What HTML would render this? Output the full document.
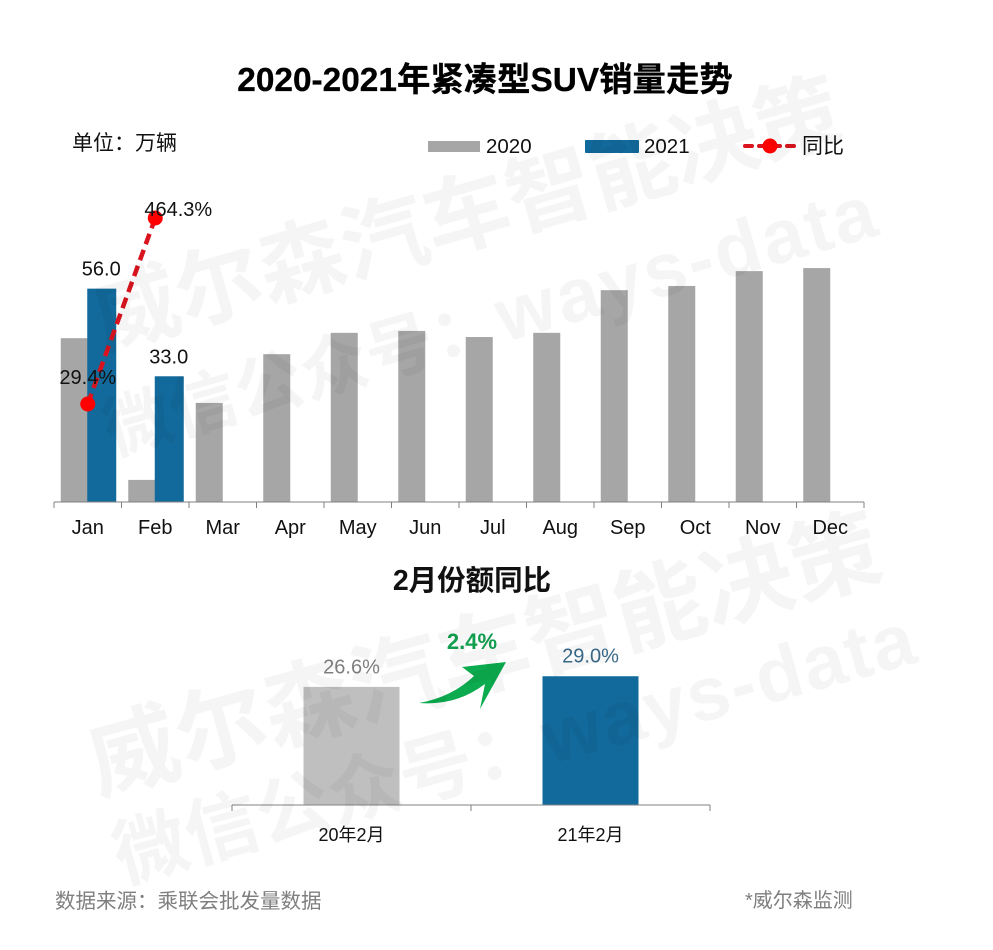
<!DOCTYPE html>
<html lang="zh">
<head>
<meta charset="utf-8">
<title>2020-2021年紧凑型SUV销量走势</title>
<style>
html,body{margin:0;padding:0;background:#fff;}
svg{display:block;font-family:"Liberation Sans","Noto Sans CJK SC",sans-serif;}
</style>
</head>
<body>
<svg id="chart" xmlns="http://www.w3.org/2000/svg" width="993" height="950" viewBox="0 0 993 950">
  <rect width="993" height="950" fill="#fff"/>
  <text x="485" y="91" text-anchor="middle" font-size="33.4" font-weight="700" fill="#000" stroke="#000" stroke-width="0.3">2020-2021年紧凑型SUV销量走势</text>
  <text x="72" y="150" font-size="21" fill="#111">单位：万辆</text>

  <g>
    <rect x="428" y="141" width="52" height="11" fill="#a6a6a6"/>
    <text x="486" y="153" font-size="20.5" fill="#111">2020</text>
    <rect x="585" y="140" width="54" height="13" rx="1" fill="#126a9c"/>
    <text x="644" y="153" font-size="20.5" fill="#111">2021</text>
    <line x1="745" y1="146" x2="797" y2="146" stroke="#d9141f" stroke-width="4" stroke-dasharray="7 7" stroke-linecap="round"/>
    <circle cx="770" cy="146" r="7.5" fill="#f00"/>
    <text x="802" y="153" font-size="21" fill="#111">同比</text>
  </g>

  <g id="main-bars"></g>
  <g id="main-axis"></g>
  <g id="yoy"></g>

  <text x="472" y="590" text-anchor="middle" font-size="28.5" font-weight="700" fill="#111">2月份额同比</text>
  <g id="share-bars"></g>
  <g id="share-axis"></g>

  <text x="472" y="649" text-anchor="middle" font-size="22" font-weight="700" fill="#12a050">2.4%</text>
  <path d="M419,703 Q452,697 474,676 L462,667 L506,662 L480,709 L485,684 Q456,706 419,703 Z" fill="#0cab4f"/>

  <g fill="#000" fill-opacity="0.04" font-weight="700">
    <text transform="translate(103,350) rotate(-16)" font-size="86">威尔森汽车智能决策</text>
    <text transform="translate(112,455) rotate(-16)" font-size="68">微信公众号：<tspan font-size="76" letter-spacing="3">ways-data</tspan></text>
    <text transform="translate(98,795) rotate(-15.5)" font-size="91">威尔森汽车智能决策</text>
    <text transform="translate(122,883) rotate(-15.5)" font-size="74">微信公众号：<tspan font-size="76" letter-spacing="2">ways-data</tspan></text>
  </g>

  <text x="55" y="908" font-size="20.5" fill="#7f7f7f">数据来源：乘联会批发量数据</text>
  <text x="745" y="907" font-size="20" fill="#7f7f7f">*威尔森监测</text>
</svg>
<script>
const months = ['Jan','Feb','Mar','Apr','May','Jun','Jul','Aug','Sep','Oct','Nov','Dec'];
const sales2020 = [43.0,5.8,26.0,38.8,44.4,44.9,43.3,44.4,55.6,56.7,60.6,61.4];
const sales2021 = [56.0,33.0];
const sales2021Labels = ['56.0','33.0'];
const yoyValues = [29.4,464.3];
const yoyLabels = ['29.4%','464.3%'];
const shareCategories = ['20年2月','21年2月'];
const shareValues = [26.6,29.0];
const shareLabels = ['26.6%','29.0%'];

const NS = 'http://www.w3.org/2000/svg';
function make(tag, parent, attrs, text) {
  const el = document.createElementNS(NS, tag);
  for (const k in attrs) el.setAttribute(k, attrs[k]);
  if (text !== undefined) el.textContent = text;
  parent.appendChild(el);
  return el;
}

/* main chart axes */
const mainLeft = 54, mainBand = 67.5, mainBase = 502, mainScale = 3.81;
const mainX = i => mainLeft + mainBand * (i + 0.5);
const mainY = v => mainBase - v * mainScale;
const yoyY = v => 404 - (v - yoyValues[0]) * 0.4277;

const mainBars = document.getElementById('main-bars');
const mainAxis = document.getElementById('main-axis');
const yoyGroup = document.getElementById('yoy');

sales2020.forEach((v, i) => {
  const el = make('rect', mainBars, {x: mainX(i) - 27, y: mainY(v), width: 27, height: v * mainScale, fill: '#a6a6a6'});
  
  
});
sales2021.forEach((v, i) => {
  const el = make('rect', mainBars, {x: mainX(i) - 0.5, y: mainY(v), width: 29, height: v * mainScale, fill: '#126a9c'});
  
  
  const lab = make('text', mainBars, {x: mainX(i) + 13.5, y: mainY(v) - 13, 'text-anchor': 'middle', 'font-size': 20, fill: '#111'}, sales2021Labels[i]);
  
  
});

const axisLine = make('line', mainAxis, {x1: mainLeft, y1: mainBase, x2: mainLeft + mainBand * months.length, y2: mainBase, stroke: '#808080', 'stroke-width': 1});


for (let i = 0; i <= months.length; i++) {
  const tx = mainLeft + mainBand * i;
  const tick = make('line', mainAxis, {x1: tx, y1: mainBase, x2: tx, y2: mainBase + 6, stroke: '#808080', 'stroke-width': 1});
  
  
}
months.forEach((m, i) => {
  const lab = make('text', mainAxis, {x: mainX(i), y: 534, 'text-anchor': 'middle', 'font-size': 20, fill: '#111'}, m);
  
  
});

const yoyPoints = yoyValues.map((v, i) => mainX(i) + ',' + yoyY(v)).join(' ');
const yoyLine = make('polyline', yoyGroup, {points: yoyPoints, fill: 'none', stroke: '#d9141f', 'stroke-width': 4.5, 'stroke-dasharray': '11 6'});


yoyValues.forEach((v, i) => {
  const pt = make('circle', yoyGroup, {cx: mainX(i), cy: yoyY(v), r: 7.5, fill: '#f00'});
  
  
  const lab = make('text', yoyGroup, {x: mainX(i) + (i === 0 ? 0 : 23), y: yoyY(v) + (i === 0 ? -20 : -2), 'text-anchor': 'middle', 'font-size': 20, fill: '#111'}, yoyLabels[i]);
  
  
});

/* share chart axes */
const shareLeft = 232, shareBand = 239, shareBase = 805, shareScale = 4.44;
const shareX = i => shareLeft + shareBand * (i + 0.5);
const shareY = v => shareBase - v * shareScale;
const shareFills = ['#bfbfbf', '#126a9c'];
const shareTextFills = ['#7f7f7f', '#3a6a8a'];

const shareBars = document.getElementById('share-bars');
const shareAxis = document.getElementById('share-axis');

shareValues.forEach((v, i) => {
  const bar = make('rect', shareBars, {x: shareX(i) - 48, y: shareY(v), width: 96, height: v * shareScale, fill: shareFills[i]});
  
  
  const lab = make('text', shareBars, {x: shareX(i), y: shareY(v) - 13.5, 'text-anchor': 'middle', 'font-size': 20, fill: shareTextFills[i]}, shareLabels[i]);
  
  
  const cat = make('text', shareAxis, {x: shareX(i), y: 841, 'text-anchor': 'middle', 'font-size': 18, fill: '#111'}, shareCategories[i]);
  
  
});
const shareLine = make('line', shareAxis, {x1: shareLeft, y1: shareBase, x2: shareLeft + shareBand * shareCategories.length, y2: shareBase, stroke: '#808080', 'stroke-width': 1});


for (let i = 0; i <= shareCategories.length; i++) {
  const tx = shareLeft + shareBand * i;
  const tick = make('line', shareAxis, {x1: tx, y1: shareBase, x2: tx, y2: shareBase + 6, stroke: '#808080', 'stroke-width': 1});
  
  
}
</script>
</body>
</html>
